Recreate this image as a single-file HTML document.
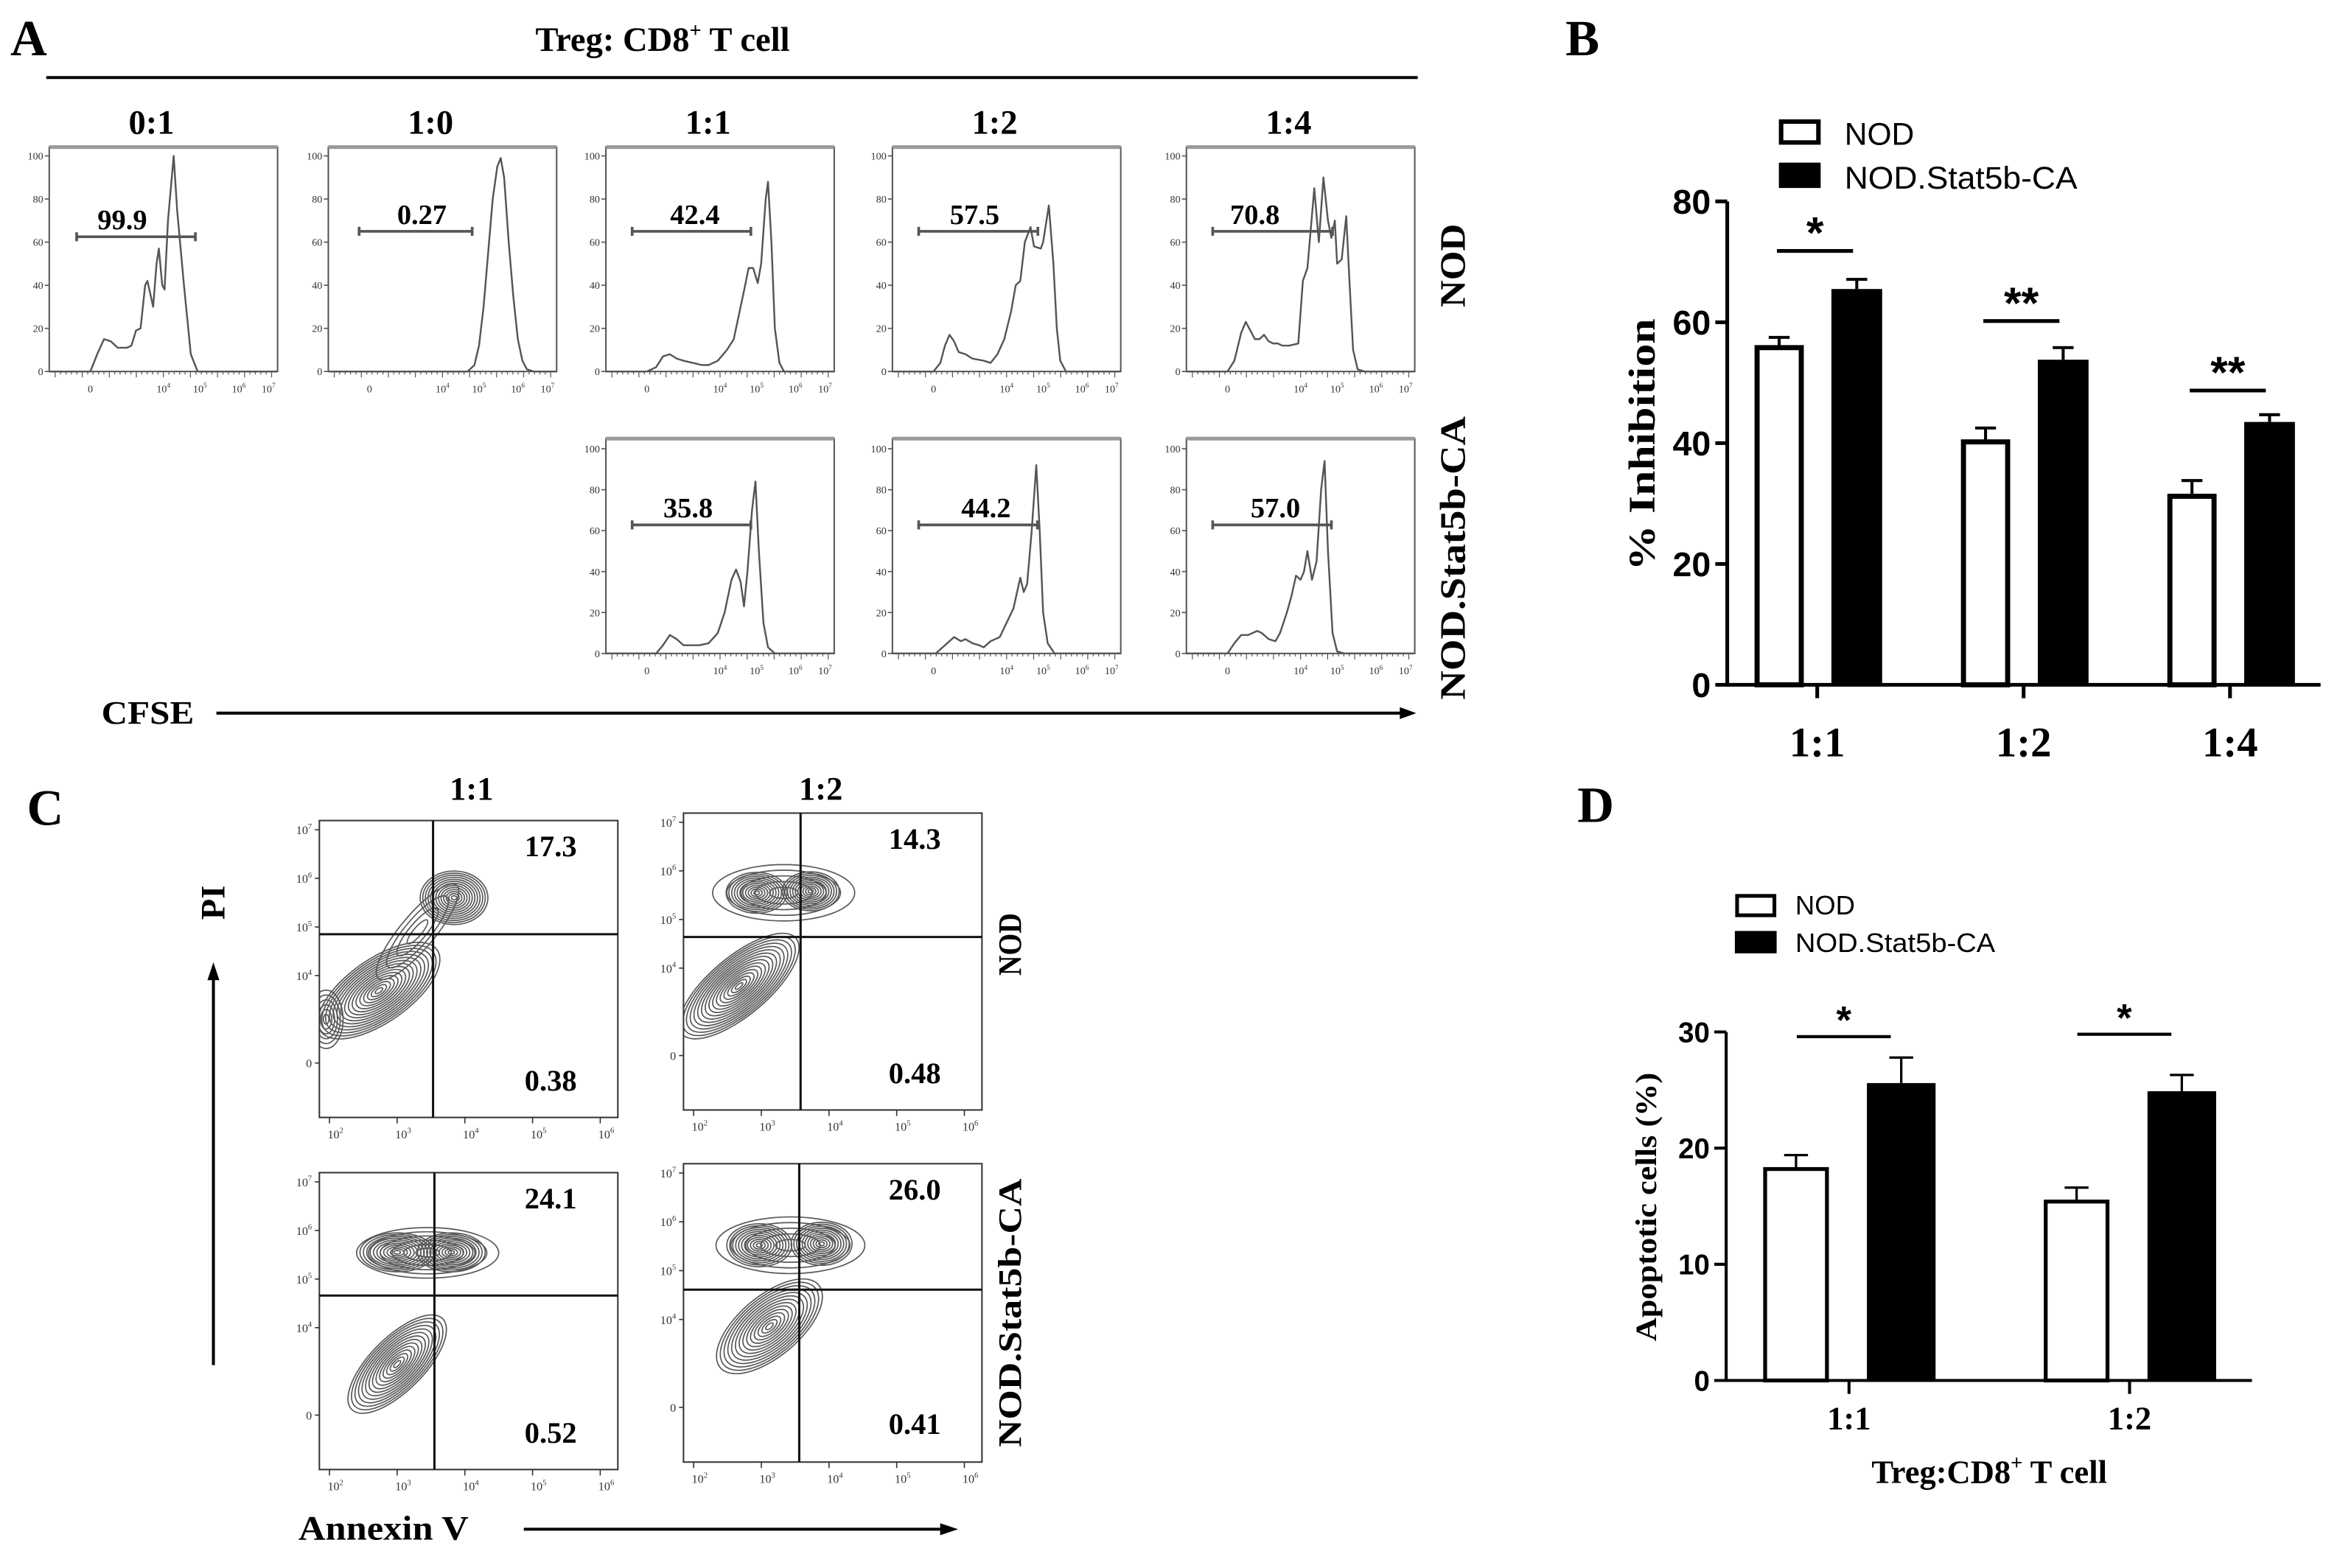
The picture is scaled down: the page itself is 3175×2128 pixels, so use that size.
<!DOCTYPE html>
<html><head><meta charset="utf-8"><style>
html,body{margin:0;padding:0;background:#fff;}
svg{display:block;}
.serif{font-family:"Liberation Serif",serif;font-weight:bold;}
.sans{font-family:"Liberation Sans",sans-serif;}
</style></head><body>
<svg id="fig" viewBox="0 0 1568 1051" width="3175" height="2128" preserveAspectRatio="none">
<rect x="0" y="0" width="1568" height="1051" fill="#fff"/>
<text class="serif" x="7" y="37" font-size="34">A</text>
<text class="serif" x="444" y="34" font-size="23" text-anchor="middle">Treg: CD8<tspan font-size="14" dy="-9">+</tspan><tspan dy="9"> T cell</tspan></text>
<line x1="31" y1="52" x2="950" y2="52" stroke="#000" stroke-width="2"/>
<text class="serif" x="976" y="178" font-size="24" text-anchor="middle" transform="rotate(-90 976 178)" textLength="56" lengthAdjust="spacingAndGlyphs" dominant-baseline="middle">NOD</text>
<text class="serif" x="976" y="374" font-size="24" text-anchor="middle" transform="rotate(-90 976 374)" textLength="190" lengthAdjust="spacingAndGlyphs" dominant-baseline="middle">NOD.Stat5b-CA</text>
<text class="serif" x="68" y="485" font-size="22" textLength="62" lengthAdjust="spacingAndGlyphs">CFSE</text>
<line x1="145" y1="478" x2="940" y2="478" stroke="#000" stroke-width="2"/>
<polygon points="949,478 938,474 938,482" fill="#000"/>
<g id="panelA"></g>

<text class="serif" x="18" y="553" font-size="34">C</text>
<text class="serif" x="316" y="536" font-size="22" text-anchor="middle">1:1</text>
<text class="serif" x="550" y="536" font-size="22" text-anchor="middle">1:2</text>
<text class="serif" x="145" y="605" font-size="23" text-anchor="middle" transform="rotate(-90 145 605)" dominant-baseline="middle">PI</text>
<line x1="143" y1="915" x2="143" y2="655" stroke="#000" stroke-width="2"/>
<polygon points="143,645 139,657 147,657" fill="#000"/>
<text class="serif" x="679" y="633" font-size="22" text-anchor="middle" transform="rotate(-90 679 633)" dominant-baseline="middle" textLength="42" lengthAdjust="spacingAndGlyphs">NOD</text>
<text class="serif" x="679" y="880" font-size="22" text-anchor="middle" transform="rotate(-90 679 880)" dominant-baseline="middle" textLength="180" lengthAdjust="spacingAndGlyphs">NOD.Stat5b-CA</text>
<text class="serif" x="200" y="1032" font-size="23" textLength="114" lengthAdjust="spacingAndGlyphs">Annexin V</text>
<line x1="351" y1="1025" x2="632" y2="1025" stroke="#000" stroke-width="2"/>
<polygon points="642,1025 630,1021 630,1029" fill="#000"/>
<g id="panelC"></g>

<text class="serif" x="1049" y="37" font-size="34">B</text>
<rect x="1193.5" y="81.5" width="25" height="14" fill="#fff" stroke="#000" stroke-width="3"/>
<text class="sans" x="1236" y="97" font-size="21">NOD</text>
<rect x="1192" y="109" width="28" height="17" fill="#000"/>
<text class="sans" x="1236" y="126.5" font-size="21" textLength="156" lengthAdjust="spacingAndGlyphs">NOD.Stat5b-CA</text>
<text class="serif" x="1103" y="298" font-size="25" text-anchor="middle" transform="rotate(-90 1103 298)" dominant-baseline="middle" textLength="169" lengthAdjust="spacingAndGlyphs">% Inhibition</text>
<g id="panelB"></g>

<text class="serif" x="1057" y="551" font-size="34">D</text>
<rect x="1164" y="600.5" width="25" height="13" fill="#fff" stroke="#000" stroke-width="2.5"/>
<text class="sans" x="1203" y="613" font-size="18">NOD</text>
<rect x="1162.5" y="624" width="28" height="15" fill="#000"/>
<text class="sans" x="1203" y="638" font-size="18" textLength="134" lengthAdjust="spacingAndGlyphs">NOD.Stat5b-CA</text>
<text class="serif" x="1105" y="809" font-size="20" text-anchor="middle" transform="rotate(-90 1105 809)" dominant-baseline="middle" textLength="180" lengthAdjust="spacingAndGlyphs">Apoptotic cells (%)</text>
<text class="serif" x="1333" y="994" font-size="22" text-anchor="middle">Treg:CD8<tspan font-size="14" dy="-9">+</tspan><tspan dy="9"> T cell</tspan></text>
<g id="panelD"></g>
</svg>
<script>
// ---------- Panel A data ----------
const histColLabels = ['0:1','1:0','1:1','1:2','1:4'];
const histGateValues = ['99.9','0.27','42.4','57.5','70.8','35.8','44.2','57.0'];
const histGateStart = [12,13.5,11.5,11.5,11.5,11.5,11.5,11.5];
const histGateEnd = [64,63,63.5,63.7,64,63.5,63.5,63.5];
const histGateLevel = [62.5,65,65,65,65,62.8,62.8,62.8];
const histLabelPos = [32,41,39,36,30,36,41,39];
const histCurves = [
 [[0,0],[18,0],[21,8],[24,15],[27,14],[30,11],[34,11],[36,12],[38,19],[40,20],[42,40],[43,42],[45.5,30],[47,50],[48,57],[49.5,40],[50.5,38],[52,70],[54.5,100],[56,75],[59,40],[62,8],[65,0],[100,0]],
 [[0,0],[61,0],[64,3],[66,12],[68,30],[70,55],[72,80],[74,95],[75.5,99],[77,90],[79,60],[81,35],[83,15],[85,5],[87,1],[90,0],[100,0]],
 [[0,0],[18,0],[22,2],[25,7],[28,8],[31,6],[34,5],[38,4],[42,3],[45,3],[49,5],[53,10],[56,15],[59,30],[61,40],[62.5,48],[64.5,48],[66.5,41],[68,50],[70,80],[71,88],[72.5,60],[74,20],[76,4],[78,0],[100,0]],
 [[0,0],[18,0],[21,4],[23,12],[25,17],[27,14],[29,9],[32,8],[35,6],[40,5],[43,4],[46,8],[49,15],[52,28],[54,40],[56,42],[58,60],[60.5,67],[62,58],[65,57],[66,60],[68.5,77],[70.5,50],[72,20],[73.5,5],[76,0],[100,0]],
 [[0,0],[18,0],[21,5],[24,18],[26,23],[28,19],[30,15],[32,15],[34,17],[36,14],[38,13],[40,13],[42,12],[45,12],[49,13],[51,42],[53,48],[56,85],[58,60],[60,90],[62,70],[63.5,62],[65,70],[66,50],[68,52],[70,72],[71.5,40],[73,10],[75,1],[78,0],[100,0]],
 [[0,0],[22,0],[25,4],[28,9],[31,7],[34,4],[37,4],[41,4],[45,5],[49,10],[52,20],[55,36],[57,41],[59,35],[60.5,23],[62,40],[64,70],[65.5,84],[67,50],[69,15],[71,3],[74,0],[100,0]],
 [[0,0],[19,0],[22,3],[25,6],[27,8],[30,6],[32,7],[35,5],[38,4],[40,3],[43,6],[47,8],[50,15],[53,22],[56,37],[57.5,30],[59,34],[61,60],[63,92],[64.5,60],[66,20],[68,5],[71,0],[100,0]],
 [[0,0],[18,0],[21,5],[24,9],[27,9],[31,11],[33,10],[36,7],[39,6],[41,10],[44,20],[46,28],[48,38],[50,36],[51.5,40],[53,50],[55,36],[57,45],[59,80],[60.5,94],[62,50],[64,10],[66,1],[69,0],[100,0]]
];
const histYTicks = [0,20,40,60,80,100];
const histXTickLabels = ['0','10^4','10^5','10^6','10^7'];
const histXTickChannels = [18,50,66,83,96];

// ---------- Panel B data ----------
const groupsB = ['1:1','1:2','1:4'];
const nodB = [55.8,40.2,31.2];
const nodErrB = [1.7,2.3,2.6];
const statB = [65.5,53.8,43.5];
const statErrB = [1.6,2.0,1.2];
const sigB = ['*','**','**'];
const sigLevelB = [71.8,60.2,48.7];
const yTicksB = [0,20,40,60,80];

// ---------- Panel C data ----------
const quadTop = ['17.3','14.3','24.1','26.0'];
const quadBottom = ['0.38','0.48','0.52','0.41'];
const quadCutX = [3.53,3.58,3.55,3.56];
const quadCutY = [4.85,4.64,4.66,4.61];
// blobs: [logAnnexin, logPI, rx(decades), ry(decades), angle, levels]
const blobs = [
 [[2.73,3.69,1.05,0.65,-35,16],[3.84,5.6,0.5,0.55,0,13],[3.3,4.9,0.9,0.35,-50,4],[1.95,3.1,0.25,0.6,0,6]],
 [[2.93,5.55,0.45,0.42,0,11],[3.73,5.58,0.42,0.4,0,11],[3.33,5.55,1.05,0.58,0,5],[2.67,3.63,1.1,0.6,-40,16]],
 [[3.0,5.55,0.55,0.4,0,11],[3.8,5.55,0.5,0.4,0,11],[3.45,5.54,1.05,0.52,0,6],[3.0,3.25,0.95,0.55,-45,14]],
 [[2.97,5.52,0.48,0.44,0,11],[3.89,5.55,0.45,0.44,0,11],[3.43,5.52,1.1,0.58,0,5],[3.12,3.86,0.95,0.62,-40,14]]
];
const cYTickLabels = ['10^7','10^6','10^5','10^4','0'];
const cYTickLogs = [7,6,5,4,2.2];
const cXTickLabels = ['10^2','10^3','10^4','10^5','10^6'];
const cXTickLogs = [2,3,4,5,6];

// ---------- Panel D data ----------
const groupsD = ['1:1','1:2'];
const nodD = [18.2,15.4];
const nodErrD = [1.2,1.2];
const statD = [25.6,24.9];
const statErrD = [2.2,1.4];
const sigD = ['*','*'];
const sigLevelD = [29.6,29.8];
const yTicksD = [0,10,20,30];

const NS = document.getElementById('fig').namespaceURI;
function mk(parent, tag, attrs, text){
  const e = document.createElementNS(NS, tag);
  for (const k in attrs) e.setAttribute(k, attrs[k]);
  if (text != null) e.textContent = text;
  parent.appendChild(e);
  return e;
}
function supText(parent, x, y, label, size, anchor){
  const t = mk(parent,'text',{x:x,y:y,'font-size':size,'text-anchor':anchor,'font-family':'Liberation Serif, serif',fill:'#333'});
  if (label.indexOf('^')>=0){
    const p = label.split('^');
    t.textContent = p[0];
    mk(t,'tspan',{'font-size':size*0.65,dy:-size*0.45},p[1]);
  } else t.textContent = label;
  return t;
}

// ---------- Panel A ----------
(function(){
  const g = document.getElementById('panelA');
  const boxX = [33,220,406,598,795,406,598,795];
  const rowOf = [0,0,0,0,0,1,1,1];
  const rows = [{top:98.6,y0:249,y100:104.5},{top:294,y0:438,y100:300.8}];
  const w = 153;
  histColLabels.forEach((lab,i)=>{
    const t = mk(g,'text',{x:boxX[i]+w/2-8,y:89.7,'font-size':23,'text-anchor':'middle','font-family':'Liberation Serif, serif','font-weight':'bold'},lab);
    
    
  });
  histCurves.forEach((curve,i)=>{
    const r = rows[rowOf[i]], L = boxX[i];
    const X = c => L + c/100*w;
    const Y = v => r.y0 - v/100*(r.y0-r.y100);
    const box = mk(g,'rect',{x:L,y:r.top,width:w,height:r.y0-r.top,fill:'none',stroke:'#555','stroke-width':1});
    
    
    const topBar = mk(g,'line',{x1:L,y1:r.top,x2:L+w,y2:r.top,stroke:'#999','stroke-width':2.5});
    
    
    histYTicks.forEach(v=>{
      const tk = mk(g,'line',{x1:L-3,y1:Y(v),x2:L,y2:Y(v),stroke:'#555','stroke-width':0.8});
      
      
      const tl = mk(g,'text',{x:L-4,y:Y(v)+2.5,'font-size':7,'text-anchor':'end','font-family':'Liberation Serif, serif',fill:'#333'},String(v));
      
      
    });
    for (let k=0;k<=40;k++){
      const xx = L + 4 + k*(w-8)/40;
      const mt = mk(g,'line',{x1:xx,y1:r.y0,x2:xx,y2:r.y0+(k%5==0?4:2),stroke:'#555','stroke-width':0.6});
      
      
    }
    histXTickLabels.forEach((lab,k)=>{
      const tl = supText(g, X(histXTickChannels[k]), r.y0+14, lab, 7, 'middle');
      
      
    });
    const pts = curve.map(p=>X(p[0]).toFixed(2)+','+Y(p[1]).toFixed(2)).join(' ');
    const line = mk(g,'polyline',{points:pts,fill:'none',stroke:'#555','stroke-width':1.2,'stroke-linejoin':'round'});
    
    
    const gy = Y(histGateLevel[i]);
    const gate = mk(g,'path',{d:`M${X(histGateStart[i])},${gy}H${X(histGateEnd[i])}M${X(histGateStart[i])},${gy-3}V${gy+3}M${X(histGateEnd[i])},${gy-3}V${gy+3}`,stroke:'#555','stroke-width':1.8,fill:'none'});
    
    
    const gl = mk(g,'text',{x:X(histLabelPos[i]),y:gy-5,'font-size':19,'text-anchor':'middle','font-family':'Liberation Serif, serif','font-weight':'bold'},histGateValues[i]);
    
    
  });
})();

// ---------- Panel C ----------
(function(){
  const g = document.getElementById('panelC');
  const boxes = [{x:214,y:550,w:200,h:199},{x:458,y:545,w:200,h:199},{x:214,y:786,w:200,h:199},{x:458,y:780,w:200,h:200}];
  boxes.forEach((b,i)=>{
    const X = lx => b.x + (lx-1.85)/(6.26-1.85)*b.w;
    const Y = ly => b.y + (7.19-ly)/(7.19-1.08)*b.h;
    const clipId = 'clipC'+i;
    const cp = mk(g,'clipPath',{id:clipId});
    mk(cp,'rect',{x:b.x,y:b.y,width:b.w,height:b.h});
    const cg = mk(g,'g',{'clip-path':'url(#'+clipId+')'});
    
    
    blobs[i].forEach(bl=>{
      const cx = X(bl[0]), cy = Y(bl[1]);
      const rx = bl[2]/(6.26-1.85)*b.w, ry = bl[3]/(7.19-1.08)*b.h;
      const n = bl[5];
      for (let k=1;k<=n;k++){
        const f = k/n;
        const el = mk(cg,'ellipse',{cx:cx,cy:cy,rx:(rx*f).toFixed(2),ry:(ry*f).toFixed(2),transform:`rotate(${bl[4]} ${cx} ${cy})`,fill:'none',stroke:'#5a5a5a','stroke-width':0.85});
        
        
      }
    });
    const fr = mk(g,'rect',{x:b.x,y:b.y,width:b.w,height:b.h,fill:'none',stroke:'#333','stroke-width':1});
    
    
    const vq = mk(g,'line',{x1:X(quadCutX[i]),y1:b.y,x2:X(quadCutX[i]),y2:b.y+b.h,stroke:'#111','stroke-width':1.5});
    
    
    const hq = mk(g,'line',{x1:b.x,y1:Y(quadCutY[i]),x2:b.x+b.w,y2:Y(quadCutY[i]),stroke:'#111','stroke-width':1.5});
    
    
    const tq = mk(g,'text',{x:b.x+155,y:b.y+24,'font-size':20,'text-anchor':'middle','font-family':'Liberation Serif, serif','font-weight':'bold'},quadTop[i]);
    
    
    const bq = mk(g,'text',{x:b.x+155,y:b.y+181,'font-size':20,'text-anchor':'middle','font-family':'Liberation Serif, serif','font-weight':'bold'},quadBottom[i]);
    
    
    cYTickLabels.forEach((lab,k)=>{
      const yy = Y(cYTickLogs[k]);
      const tk = mk(g,'line',{x1:b.x-3,y1:yy,x2:b.x,y2:yy,stroke:'#333','stroke-width':0.8});
      
      
      const tl = supText(g, b.x-5, yy+3, lab, 8, 'end');
      
      
    });
    cXTickLabels.forEach((lab,k)=>{
      const xx = X(cXTickLogs[k]);
      const tk = mk(g,'line',{x1:xx,y1:b.y+b.h,x2:xx,y2:b.y+b.h+4,stroke:'#333','stroke-width':0.8});
      
      
      const tl = supText(g, xx+4, b.y+b.h+14, lab, 8, 'middle');
      
      
    });
  });
})();

// ---------- Bar chart helper ----------
function barChart(gid, cfg){
  const g = document.getElementById(gid);
  const Y = v => cfg.y0 - v*(cfg.y0-cfg.yTop)/cfg.yMax;
  const axis = mk(g,'path',{d:`M${cfg.ax},${cfg.yTop}V${cfg.y0}H${cfg.axEnd}`,fill:'none',stroke:'#000','stroke-width':cfg.axW});
  
  
  cfg.yTicks.forEach(v=>{
    const tk = mk(g,'line',{x1:cfg.ax-8,y1:Y(v),x2:cfg.ax,y2:Y(v),stroke:'#000','stroke-width':cfg.axW});
    
    
    const tl = mk(g,'text',{x:cfg.ax-11,y:Y(v)+cfg.tickFs*0.36,'font-size':cfg.tickFs,'text-anchor':'end','font-family':'Liberation Sans, sans-serif','font-weight':'bold'},String(v));
    
    
  });
  cfg.groups.forEach((lab,i)=>{
    const c = cfg.c0 + i*cfg.step;
    const tk = mk(g,'line',{x1:c,y1:cfg.y0,x2:c,y2:cfg.y0+9,stroke:'#000','stroke-width':cfg.axW});
    
    
    const tl = mk(g,'text',{x:c,y:cfg.xlabY,'font-size':cfg.xFs,'text-anchor':'middle','font-family':'Liberation Serif, serif','font-weight':'bold'},lab);
    
    
    const sw = cfg.barStroke;
    const nx = c + cfg.nodOff, nw = cfg.nodW;
    const ne = mk(g,'path',{d:`M${nx+nw/2},${Y(cfg.nod[i])}V${Y(cfg.nod[i]+cfg.nodErr[i])}M${nx+nw/2-cfg.cap},${Y(cfg.nod[i]+cfg.nodErr[i])}H${nx+nw/2+cfg.cap}`,stroke:'#000','stroke-width':cfg.errW,fill:'none'});
    
    
    const nb = mk(g,'rect',{x:nx+sw/2,y:Y(cfg.nod[i]),width:nw-sw,height:cfg.y0-Y(cfg.nod[i]),fill:'#fff',stroke:'#000','stroke-width':sw});
    
    
    const sx = c + cfg.statOff, sW = cfg.statW;
    const se = mk(g,'path',{d:`M${sx+sW/2},${Y(cfg.stat[i])}V${Y(cfg.stat[i]+cfg.statErr[i])}M${sx+sW/2-cfg.cap},${Y(cfg.stat[i]+cfg.statErr[i])}H${sx+sW/2+cfg.cap}`,stroke:'#000','stroke-width':cfg.errW,fill:'none'});
    
    
    const sb = mk(g,'rect',{x:sx,y:Y(cfg.stat[i]),width:sW,height:cfg.y0-Y(cfg.stat[i]),fill:'#000'});
    
    
    const sy = Y(cfg.sigLevel[i]);
    const sl = mk(g,'line',{x1:c+cfg.sigX1,y1:sy,x2:c+cfg.sigX2,y2:sy,stroke:'#000','stroke-width':cfg.errW+0.5});
    
    
    const st = mk(g,'text',{x:c+(cfg.sigX1+cfg.sigX2)/2,y:sy-cfg.starGap+cfg.starFs*0.57,'font-size':cfg.starFs,'text-anchor':'middle','font-family':'Liberation Sans, sans-serif','font-weight':'bold'},cfg.sig[i]);
    
    
  });
}
barChart('panelB',{groups:groupsB,nod:nodB,nodErr:nodErrB,stat:statB,statErr:statErrB,sig:sigB,sigLevel:sigLevelB,yTicks:yTicksB,
  yMax:80,y0:459,yTop:135,ax:1157.4,axEnd:1555,axW:2.5,c0:1217.7,step:138.3,
  nodOff:-42,nodW:33,statOff:9.5,statW:34,barStroke:3.4,errW:2,cap:7,tickFs:23,xFs:28,xlabY:507,
  sigX1:-27,sigX2:24,starFs:30,starGap:19});
barChart('panelD',{groups:groupsD,nod:nodD,nodErr:nodErrD,stat:statD,statErr:statErrD,sig:sigD,sigLevel:sigLevelD,yTicks:yTicksD,
  yMax:30,y0:925.3,yTop:691.7,ax:1156.7,axEnd:1509,axW:2,c0:1239,step:188,
  nodOff:-57.5,nodW:44,statOff:12,statW:46,barStroke:2.6,errW:1.6,cap:8,tickFs:19,xFs:22,xlabY:958,
  sigX1:-35,sigX2:28,starFs:26,starGap:17});
</script>
</body></html>
